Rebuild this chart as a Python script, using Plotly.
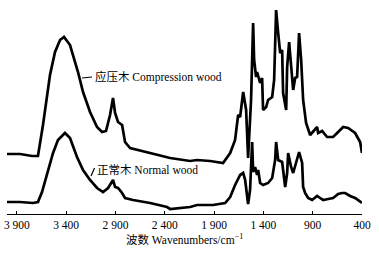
import plotly.graph_objects as go

# Compression wood (upper, offset) spectrum
cw_wn = [4000, 3868, 3746, 3686, 3635, 3564, 3513, 3462, 3422, 3361, 3280, 3229, 3158, 3087, 3036, 2996,
         2955, 2925, 2904, 2874, 2833, 2803, 2752, 2549, 2346, 2143, 2072, 1940, 1809, 1737, 1687, 1656,
         1636, 1605, 1575, 1555, 1525, 1504, 1494, 1474, 1464, 1433, 1413, 1403, 1372, 1352, 1311, 1291,
         1271, 1250, 1230, 1210, 1200, 1169, 1159, 1139, 1119, 1098, 1078, 1058, 1038, 1017, 997, 967,
         926, 896, 855, 845, 804, 754, 693, 642, 591, 541, 470, 419, 400]
cw_abs = [0.60, 0.60, 0.58, 0.58, 0.89, 1.39, 1.62, 1.74, 1.77, 1.69, 1.42, 1.22, 1.02, 0.87, 0.82, 0.83,
          0.99, 1.16, 1.01, 0.92, 0.89, 0.72, 0.66, 0.61, 0.56, 0.53, 0.54, 0.53, 0.51, 0.61, 0.74, 0.99,
          0.97, 1.22, 1.04, 0.56, 1.14, 1.91, 1.54, 1.37, 1.42, 1.31, 1.36, 1.04, 1.07, 1.14, 1.17, 1.34,
          2.04, 1.81, 1.61, 1.64, 1.21, 1.04, 1.47, 1.72, 1.47, 1.24, 1.36, 1.37, 1.81, 1.54, 1.14, 0.91,
          0.79, 0.82, 0.87, 0.81, 0.83, 0.77, 0.77, 0.82, 0.87, 0.86, 0.81, 0.72, 0.61]

# Normal wood (lower) spectrum
nw_wn = [4000, 3868, 3736, 3686, 3645, 3584, 3533, 3483, 3412, 3361, 3290, 3229, 3158, 3087, 3026, 2975,
         2925, 2904, 2874, 2833, 2803, 2722, 2549, 2377, 2346, 2143, 2072, 1910, 1788, 1737, 1687, 1636,
         1605, 1585, 1565, 1555, 1535, 1514, 1504, 1484, 1464, 1453, 1433, 1403, 1352, 1311, 1281, 1271,
         1250, 1210, 1179, 1159, 1149, 1119, 1098, 1068, 1038, 1007, 997, 977, 946, 906, 855, 825, 794,
         743, 693, 642, 602, 571, 520, 470, 439, 400]
nw_abs = [0.12, 0.12, 0.11, 0.12, 0.22, 0.44, 0.61, 0.74, 0.81, 0.76, 0.57, 0.44, 0.34, 0.26, 0.22, 0.26,
          0.34, 0.27, 0.26, 0.21, 0.16, 0.14, 0.11, 0.07, 0.05, 0.07, 0.09, 0.09, 0.11, 0.17, 0.29, 0.39,
          0.41, 0.34, 0.19, 0.10, 0.24, 0.72, 0.42, 0.47, 0.39, 0.44, 0.31, 0.29, 0.31, 0.36, 0.54, 0.72,
          0.54, 0.52, 0.27, 0.41, 0.61, 0.47, 0.41, 0.51, 0.62, 0.51, 0.27, 0.21, 0.16, 0.14, 0.18, 0.16, 0.14,
          0.15, 0.16, 0.20, 0.21, 0.21, 0.18, 0.16, 0.14, 0.11]

tick_vals = [3900, 3400, 2900, 2400, 1900, 1400, 900, 400]
tick_text = ["3 900", "3 400", "2 900", "2 400", "1 900", "1 400", "900", "400"]

SERIF = "Liberation Serif, Times New Roman, Noto Sans CJK SC, serif"

fig = go.Figure()
fig.add_trace(go.Scatter(x=cw_wn, y=cw_abs, mode="lines",
                         line=dict(color="black", width=2.7), showlegend=False))
fig.add_trace(go.Scatter(x=nw_wn, y=nw_abs, mode="lines",
                         line=dict(color="black", width=2.7), showlegend=False))

# labels with leader lines
fig.add_annotation(x=3127, y=1.37, text="应压木 Compression wood", showarrow=False,
                   xanchor="left", yanchor="middle", font=dict(family=SERIF, size=11.5, color="black"))
fig.add_shape(type="line", x0=3239, y0=1.36, x1=3138, y1=1.37, line=dict(color="black", width=1.2))
fig.add_annotation(x=3107, y=0.44, text="正常木 Normal wood", showarrow=False,
                   xanchor="left", yanchor="middle", font=dict(family=SERIF, size=11.5, color="black"))
fig.add_shape(type="line", x0=3148, y0=0.38, x1=3112, y1=0.46, line=dict(color="black", width=1.2))

# axis title
fig.add_annotation(x=0.5, y=-0.119, xref="paper", yref="paper", text="波数 Wavenumbers/cm<sup>−1</sup>",
                   showarrow=False, xanchor="center", yanchor="middle",
                   font=dict(family=SERIF, size=11.5, color="black"))

fig.update_layout(
    width=379, height=254,
    margin=dict(l=7, r=17, t=0, b=40, autoexpand=False),
    paper_bgcolor="white", plot_bgcolor="white",
    font=dict(family=SERIF, size=11, color="black"),
)
fig.update_xaxes(range=[4000, 400], showline=True, linecolor="black", linewidth=1, automargin=False,
                 ticks="inside", ticklen=3, tickcolor="black", tickvals=tick_vals, ticktext=tick_text,
                 tickfont=dict(family=SERIF, size=11.5), showgrid=False, zeroline=False)
fig.update_yaxes(range=[0, 2.14], visible=False, showgrid=False, zeroline=False, automargin=False)

fig.write_html("out.html", config={"displayModeBar": False},
               post_script="document.body.style.margin='0px';document.body.style.padding='0px';")
